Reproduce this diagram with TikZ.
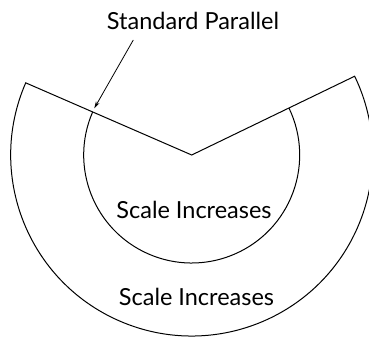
\documentclass[tikz,border=0pt]{standalone}
\usepackage{fontspec}
\setmainfont{Lato}
\usetikzlibrary{arrows.meta,calc}
\begin{document}
\begin{tikzpicture}[x=1pt,y=1pt,
  edge/.style={line width=1pt,line join=miter},
  lbl/.style={inner sep=0pt,anchor=base,font=\fontsize{23.5}{27}\selectfont},
  pointer/.style={line width=0.8pt,-{Stealth[length=7pt,width=4pt]}}]
\useasboundingbox (0,0) rectangle (369,341);
\coordinate (apex) at (191.7,186);
\draw[edge] (apex) -- ++(156.5:181) arc[start angle=156.5,end angle=385.8,radius=181] -- cycle;
\draw[edge] ($(apex)+(156.5:108)$) coordinate (sp) arc[start angle=156.5,end angle=385.8,radius=108];
\node[lbl] (title) at (193,312) {Standard Parallel};
\node[lbl] (inner) at (194,122.7) {Scale Increases};
\node[lbl] (outer) at (196.5,36) {Scale Increases};
\coordinate (tail) at (133.3,301);
\coordinate (tip) at (94.3,232.7);
\draw[pointer] (tail) -- (tip);
\end{tikzpicture}
\end{document}
